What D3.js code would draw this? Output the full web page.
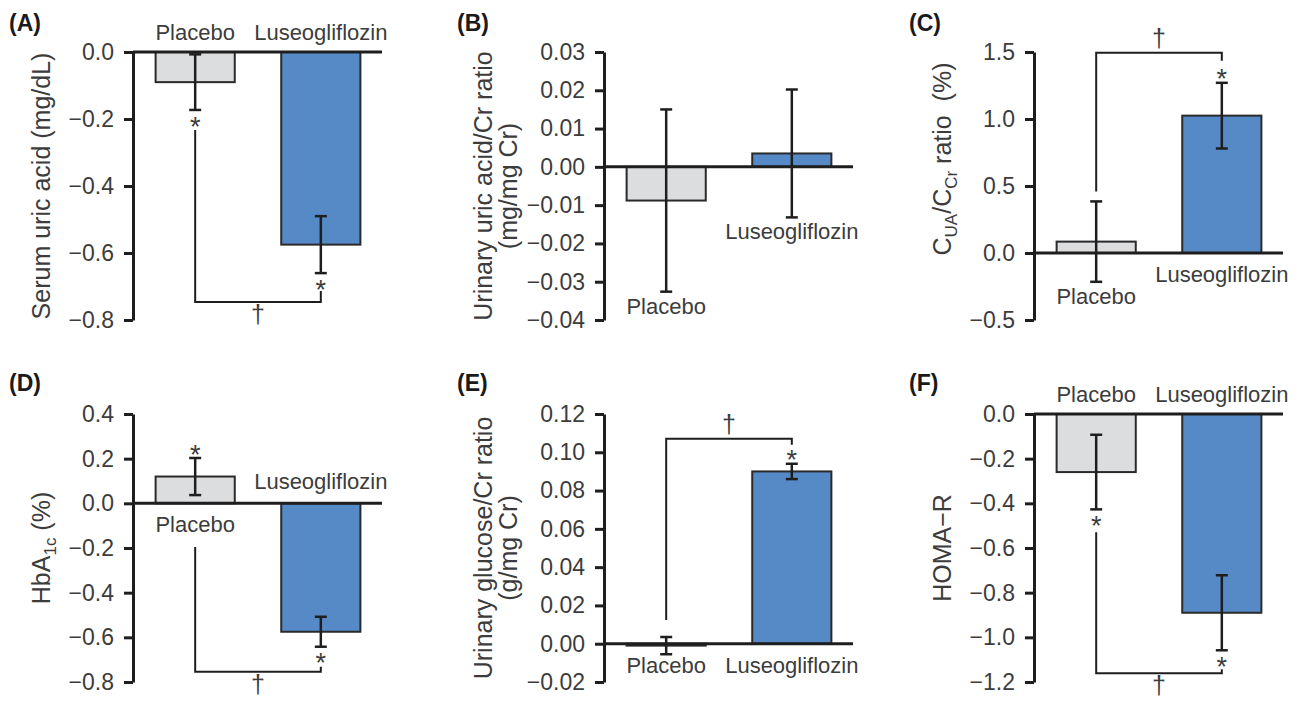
<!DOCTYPE html>
<html><head><meta charset="utf-8">
<script src="https://cdn.jsdelivr.net/npm/d3@7"></script>
<style>
body{margin:0;background:#fff}
svg{display:block}
text{font-family:"Liberation Sans", Arial, Helvetica, sans-serif;}
</style>
</head><body>
<svg id="chart" width="1296" height="701"></svg>
<script>
// ---------------- DATA ----------------
const categories = ["Placebo", "Luseogliflozin"];
const panelLetters = ["A", "B", "C", "D", "E", "F"];
const placeboMean = [-0.09, -0.0088, 0.085, 0.12, -0.001, -0.26];
const placeboSE   = [0.083, 0.0238, 0.30, 0.083, 0.0045, 0.167];
const luseoMean   = [-0.575, 0.0035, 1.025, -0.575, 0.09, -0.89];
const luseoSE     = [0.085, 0.0167, 0.245, 0.067, 0.004, 0.168];
const ticksA = [0, -0.2, -0.4, -0.6, -0.8];
const ticksB = [0.03, 0.02, 0.01, 0, -0.01, -0.02, -0.03, -0.04];
const ticksC = [1.5, 1.0, 0.5, 0, -0.5];
const ticksD = [0.4, 0.2, 0, -0.2, -0.4, -0.6, -0.8];
const ticksE = [0.12, 0.10, 0.08, 0.06, 0.04, 0.02, 0, -0.02];
const ticksF = [0, -0.2, -0.4, -0.6, -0.8, -1.0, -1.2];
const tickFormats = [".1f", ".2f", ".1f", ".1f", ".2f", ".1f"];
// * = significant change from baseline [placebo, luseogliflozin]
const withinSig = [[true, true], [false, false], [false, true], [true, true], [false, true], [true, true]];
// † = significant difference between groups
const betweenSig = [true, false, true, true, true, true];
// y-axis titles: lines -> segments [text, isSubscript]
const yTitles = [
  [[["Serum uric acid (mg/dL)", false]]],
  [[["Urinary uric acid/Cr ratio", false]], [["(mg/mg Cr)", false]]],
  [[["C", false], ["UA", true], ["/C", false], ["Cr", true], [" ratio\u00a0\u00a0(%)", false]]],
  [[["HbA", false], ["1c", true], [" (%)", false]]],
  [[["Urinary glucose/Cr ratio", false]], [["(g/mg Cr)", false]]],
  [[["HOMA\u2212R", false]]]
];

// ---------------- LAYOUT / STYLE ----------------
const tickSets = [ticksA, ticksB, ticksC, ticksD, ticksE, ticksF];
const colAxisX = [133, 604, 1034];
const rowY = [[52, 320], [414, 682]];
const layout = [
  {col: 0, row: 0, labelMode: ["top", "top"], bracket: {dir: 1, pGap: 20, lGap: 18, levelGap: 29}, titleShift: 0},
  {col: 1, row: 0, labelMode: ["belowErr", "belowErr"], bracket: null, titleShift: 0},
  {col: 2, row: 0, labelMode: ["belowErr", "belowZero"], bracket: {dir: -1, pGap: 10, lGap: 22, levelGap: 30}, titleShift: -27},
  {col: 0, row: 1, labelMode: ["belowZero", "aboveZero"], bracket: {dir: 1, pGap: 52, lGap: 20, levelGap: 25}, titleShift: 0},
  {col: 1, row: 1, labelMode: ["belowZero", "belowZero"], bracket: {dir: -1, pGap: 17, lGap: 19, levelGap: 25}, titleShift: 0},
  {col: 2, row: 1, labelMode: ["top", "top"], bracket: {dir: 1, pGap: 23, lGap: 19, levelGap: 23}, titleShift: 0}
];
const fills = ["#dcddde", "#568ac7"];
const textColor = "#3c3c3c";
const inkColor = "#1e1e1e";

const svg = d3.select("#chart");

panelLetters.forEach((letter, i) => {
  const L = layout[i];
  const ax = colAxisX[L.col];
  const [top, bottom] = rowY[L.row];
  const ticks = tickSets[i];
  const y = d3.scaleLinear().domain([d3.min(ticks), d3.max(ticks)]).range([bottom, top]);
  const x = d3.scaleBand().domain(categories).range([ax, ax + 250]).paddingInner(0.37).paddingOuter(0.18);
  const g = svg.append("g");
  const data = categories.map((c, k) => ({
    cat: c, k,
    mean: k === 0 ? placeboMean[i] : luseoMean[i],
    se: k === 0 ? placeboSE[i] : luseoSE[i],
    sig: withinSig[i][k]
  }));

  // bars
  g.selectAll("rect.bar").data(data).join("rect")
    .attr("x", d => x(d.cat))
    .attr("width", x.bandwidth())
    .attr("y", d => Math.min(y(d.mean), y(0)))
    .attr("height", d => Math.max(1, Math.abs(y(d.mean) - y(0))))
    .attr("fill", d => fills[d.k])
    .attr("stroke", "#2a2a2a")
    .attr("stroke-width", 2);

  // zero line
  g.append("line")
    .attr("x1", ax).attr("x2", ax + 249)
    .attr("y1", y(0)).attr("y2", y(0))
    .attr("stroke", inkColor).attr("stroke-width", 3);

  // error bars
  const cx = d => x(d.cat) + x.bandwidth() / 2;
  const eb = g.selectAll("g.err").data(data).join("g");
  eb.append("line")
    .attr("x1", cx).attr("x2", cx)
    .attr("y1", d => y(d.mean + d.se)).attr("y2", d => y(d.mean - d.se))
    .attr("stroke", inkColor).attr("stroke-width", 2.5);
  [1, -1].forEach(s => {
    eb.append("line")
      .attr("x1", d => cx(d) - 6).attr("x2", d => cx(d) + 6)
      .attr("y1", d => y(d.mean + s * d.se)).attr("y2", d => y(d.mean + s * d.se))
      .attr("stroke", inkColor).attr("stroke-width", 2.5);
  });

  // axis
  const axis = d3.axisLeft(y).tickValues(ticks).tickFormat(d3.format(tickFormats[i]))
    .tickSize(9).tickPadding(10).tickSizeOuter(0);
  const ag = g.append("g").attr("transform", `translate(${ax},0)`).call(axis);
  ag.select(".domain").attr("stroke", inkColor).attr("stroke-width", 3);
  ag.selectAll(".tick line").attr("stroke", inkColor).attr("stroke-width", 3);
  ag.selectAll(".tick text").attr("fill", textColor).attr("font-size", 23)
    .attr("font-family", "'Liberation Sans', Arial, sans-serif");

  // category labels
  g.selectAll("text.cat").data(data).join("text")
    .attr("x", cx)
    .attr("y", d => {
      const m = L.labelMode[d.k];
      if (m === "top") return y(0) - 12;
      if (m === "aboveZero") return y(0) - 14;
      if (m === "belowZero") return y(0) + 29;
      return y(d.mean - d.se) + 22;
    })
    .attr("text-anchor", "middle")
    .attr("font-size", 22)
    .attr("fill", textColor)
    .text(d => d.cat);

  // asterisks (within-group significance)
  const astSize = 27;
  g.selectAll("text.ast").data(data.filter(d => d.sig)).join("text")
    .attr("x", cx)
    .attr("y", d => {
      const c = d.mean >= 0 ? y(d.mean + d.se) - 10 : y(d.mean - d.se) + 10;
      return c + 0.58 * astSize;
    })
    .attr("text-anchor", "middle")
    .attr("font-size", astSize)
    .attr("fill", textColor)
    .text("*");

  // bracket + dagger (between-group significance)
  if (betweenSig[i] && L.bracket) {
    const b = L.bracket;
    const p = data[0], q = data[1];
    const pEnd = b.dir > 0 ? y(p.mean - p.se) : y(p.mean + p.se);
    const qEnd = b.dir > 0 ? y(q.mean - q.se) : y(q.mean + q.se);
    const y0 = pEnd + b.dir * b.pGap;
    const yl = qEnd + b.dir * b.levelGap;
    const y1 = qEnd + b.dir * b.lGap;
    g.append("path")
      .attr("d", `M${cx(p)},${y0}V${yl}H${cx(q)}V${y1}`)
      .attr("fill", "none").attr("stroke", inkColor).attr("stroke-width", 2);
    const daggerSize = 25;
    const baseline = b.dir > 0 ? yl + 21 : yl - 6;
    g.append("text")
      .attr("x", (cx(p) + cx(q)) / 2)
      .attr("y", baseline)
      .attr("text-anchor", "middle")
      .attr("font-size", daggerSize)
      .attr("fill", textColor)
      .text("\u2020");
  }

  // y-axis title
  const lines = yTitles[i];
  const cy = (top + bottom) / 2 + L.titleShift;
  const baseX = lines.length > 1 ? ax - 112 : ax - 83;
  const tg = g.append("g").attr("transform", `translate(${baseX},${cy}) rotate(-90)`);
  lines.forEach((segs, li) => {
    const t = tg.append("text")
      .attr("x", 0).attr("y", li * 25)
      .attr("text-anchor", "middle")
      .attr("font-size", 25)
      .attr("fill", textColor);
    let sub = false;
    segs.forEach(([s, isSub]) => {
      const ts = t.append("tspan").text(s);
      if (isSub && !sub) { ts.attr("dy", 6).attr("font-size", 17); sub = true; }
      else if (isSub) { ts.attr("font-size", 17); }
      else if (sub) { ts.attr("dy", -6); sub = false; }
    });
  });

  // panel letter
  svg.append("text")
    .attr("x", [9, 457, 909][L.col])
    .attr("y", [31, 391][L.row])
    .attr("font-size", 23)
    .attr("font-weight", "bold")
    .attr("fill", "#1a1a1a")
    .text(`(${letter})`);
});
</script>
</body></html>
